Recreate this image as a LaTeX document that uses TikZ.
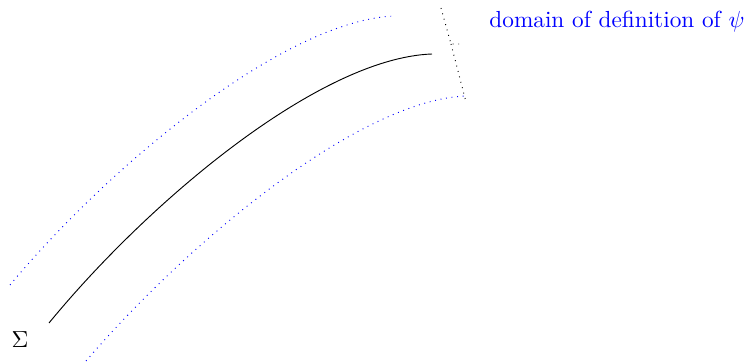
\documentclass[tikz,border=0pt]{standalone}
\usepackage{xcolor}
\usepackage{tikz}
\usetikzlibrary{positioning,calc}

\begin{document}
\begin{tikzpicture}[
  x=0.43pt, y=-0.43pt,
  bd/.style={blue,dotted,thin},
  kd/.style={black,dotted,thin},
  lbl/.style={inner sep=0pt,font=\normalsize},
]
  \useasboundingbox (0,0) rectangle (751,364);
  % the surface
  \draw[thin] (49,323) .. controls (150,200) and (320,58) .. (432,54);
  % tube around it
  \draw[bd] (10,285) .. controls (110,165) and (285,20) .. (395,16);
  \draw[bd] (86,361) .. controls (190,240) and (360,100) .. (466,96);
  % right end of the domain
  \draw[kd] (441,8) -- (451,44) -- (461,44);
  \draw[kd] (451,44) -- (466,102);
  \node[lbl] (sig) at (20,340) {$\Sigma$};
  \node[lbl,blue] (dom) at (617,22) {domain of definition of $\psi$};
\end{tikzpicture}
\end{document}
